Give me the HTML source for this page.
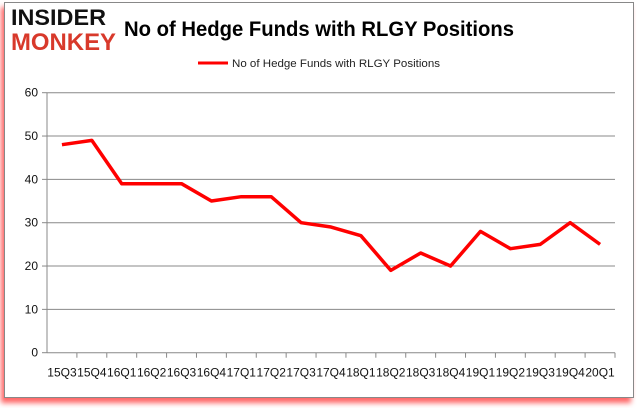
<!DOCTYPE html>
<html><head><meta charset="utf-8"><style>
body{margin:0;background:#fff;width:637px;height:408px;overflow:hidden;font-family:"Liberation Sans",sans-serif}
#frame{position:absolute;left:4px;top:2px;width:628px;height:394px;border:1px solid #888;background:#fff;box-shadow:-3px 5px 5px rgba(255,0,0,0.6)}
</style></head><body>
<div id="frame"></div>
<svg id="c" width="637" height="408" style="position:absolute;left:0;top:0">
<text x="11" y="25" font-size="22" font-weight="bold" fill="#111" font-family="Liberation Sans" textLength="95" lengthAdjust="spacingAndGlyphs">INSIDER</text>
<text x="11" y="50" font-size="24" font-weight="bold" fill="#d8392b" font-family="Liberation Sans" textLength="105" lengthAdjust="spacingAndGlyphs">MONKEY</text>
<text x="124" y="36" font-size="21" font-weight="bold" fill="#000" textLength="390" lengthAdjust="spacingAndGlyphs">No of Hedge Funds with RLGY Positions</text>
<line x1="198" y1="63" x2="228" y2="63" stroke="#f00" stroke-width="3"/>
<text x="232" y="67" font-size="11" fill="#222" textLength="208" lengthAdjust="spacingAndGlyphs">No of Hedge Funds with RLGY Positions</text>
<g id="g"></g>
</svg>
<script>
const categories=["15Q3","15Q4","16Q1","16Q2","16Q3","16Q4","17Q1","17Q2","17Q3","17Q4","18Q1","18Q2","18Q3","18Q4","19Q1","19Q2","19Q3","19Q4","20Q1"];
const values=[48,49,39,39,39,35,36,36,30,29,27,19,23,20,28,24,25,30,25];
const yTicks=[0,10,20,30,40,50,60];
const L=47,R=615,T=92.7,B=352.7,ymax=60;
const bw=(R-L)/categories.length;
const xS=i=>L+bw*(i+0.5);
const yS=v=>B-(v/ymax)*(B-T);
const g=document.getElementById('g');
const NS="http://www.w3.org/2000/svg";
function mk(t,a){const e=document.createElementNS(NS,t);for(const k in a)e.setAttribute(k,a[k]);g.appendChild(e);return e;}
yTicks.forEach(v=>{
 const y=yS(v);
 const ln=mk('line',{x1:L,x2:R,y1:y,y2:y,stroke:'#888','stroke-width':1});
 
 
 const tk=mk('line',{x1:L-5,x2:L,y1:y,y2:y,stroke:'#888'});
 
 
 const t=mk('text',{x:L-9,y:y+4,'font-size':12,'text-anchor':'end',fill:'#111'});
 t.textContent=v;
 
 
});
const ax=mk('line',{x1:L,x2:L,y1:T,y2:B,stroke:'#888'});


categories.forEach((c,i)=>{
 const x=L+bw*(i+1);
 const tk=mk('line',{x1:x,x2:x,y1:B,y2:B+5,stroke:'#888'});
 
 
 const t=mk('text',{x:xS(i),y:B+24,'font-size':12,'text-anchor':'middle',fill:'#111'});
 t.textContent=c;
 
 
});
const pts=values.map((v,i)=>xS(i)+','+yS(v)).join(' ');
const pl=mk('polyline',{points:pts,fill:'none',stroke:'#f00','stroke-width':3.5,'stroke-linejoin':'round'});


</script>
</body></html>
